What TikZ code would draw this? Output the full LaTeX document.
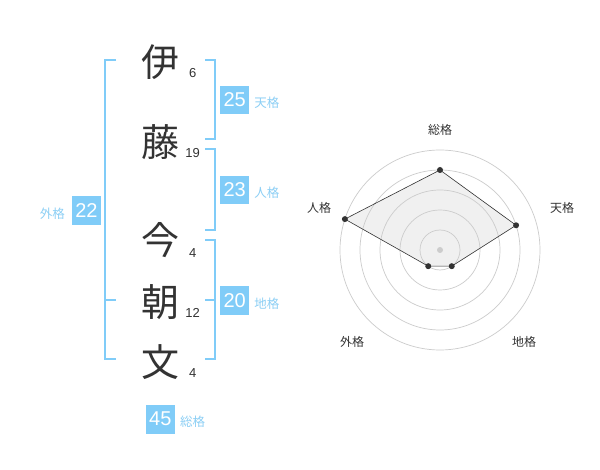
\documentclass[tikz,border=0pt]{standalone}
\usepackage{fontspec}
\setmainfont{Liberation Sans}
\newfontfamily\jp{Noto Sans CJK JP}
\usetikzlibrary{positioning,calc}
\definecolor{kakublue}{HTML}{80CCF8}
\definecolor{kakutext}{HTML}{8CCFF5}
\definecolor{inkgray}{HTML}{333333}
\tikzset{
  kanji/.style={text=inkgray,font=\jp\fontsize{38}{38}\selectfont,inner sep=0pt},
  strokes/.style={text=inkgray,font=\fontsize{13}{13}\selectfont,inner sep=0pt},
  kakubox/.style={fill=kakublue,text=white,minimum size=28.6pt,inner sep=0pt,font=\fontsize{20}{20}\selectfont},
  kakulabel/.style={text=kakutext,font=\jp\fontsize{12.5}{12.5}\selectfont,inner sep=0pt},
  bracket/.style={draw=kakublue,line width=2pt},
  ring/.style={draw=black!20,line width=0.7pt},
  dot/.style={circle,fill=inkgray,inner sep=0pt,minimum size=6pt},
  axislabel/.style={text=inkgray,font=\jp\fontsize{12}{12}\selectfont,inner sep=0pt}
}
\begin{document}
\begin{tikzpicture}[x=1pt,y=-1pt]
  \useasboundingbox[fill=white] (0,0) rectangle (600,470);

  % name characters
  \node[kanji] (k1) at (160,62) {伊};
  \node[kanji] (k2) at (160,142) {藤};
  \node[kanji] (k3) at (160,240) {今};
  \node[kanji] (k4) at (160,302) {朝};
  \node[kanji] (k5) at (160,362) {文};

  % stroke counts
  \node[strokes] (s1) at (192.7,72.7) {6};
  \node[strokes] (s2) at (192.7,152.7) {19};
  \node[strokes] (s3) at (192.7,253.3) {4};
  \node[strokes] (s4) at (192.7,312.7) {12};
  \node[strokes] (s5) at (192.7,372.7) {4};

  % right brackets
  \draw[bracket] (205,60) -- (215,60) -- (215,139) -- (205,139);
  \draw[bracket] (205,149) -- (215,149) -- (215,230) -- (205,230);
  \draw[bracket] (205,240) -- (215,240) -- (215,359) -- (205,359);
  \draw[bracket] (205,300) -- (215,300);

  % left bracket
  \draw[bracket] (116,60) -- (105,60) -- (105,359) -- (116,359);
  \draw[bracket] (105,300) -- (116,300);

  % kaku boxes
  \node[kakubox] (ten) at (234.7,100) {25};
  \node[kakulabel,right=5pt of ten,yshift=-3pt] (tenl) {天格};
  \node[kakubox] (jin) at (234.7,190) {23};
  \node[kakulabel,right=5pt of jin,yshift=-3pt] (jinl) {人格};
  \node[kakubox] (chi) at (234.7,300.7) {20};
  \node[kakulabel,right=5pt of chi,yshift=-3pt] (chil) {地格};
  \node[kakubox] (gai) at (86.5,210.3) {22};
  \node[kakulabel,left=7pt of gai,yshift=-3pt] (gail) {外格};
  \node[kakubox] (sou) at (160.3,419.2) {45};
  \node[kakulabel,right=5pt of sou,yshift=-3pt] (soul) {総格};

  % radar chart
  \coordinate (c) at (440,250);
  \coordinate (rsou) at ($(c)+(-90:80)$);
  \coordinate (rten) at ($(c)+(-18:80)$);
  \coordinate (rchi) at ($(c)+(54:20)$);
  \coordinate (rgai) at ($(c)+(126:20)$);
  \coordinate (rjin) at ($(c)+(-162:100)$);
  \fill[black!6] (rsou) -- (rten) -- (rchi) -- (rgai) -- (rjin) -- cycle;
  \foreach \r in {20,40,...,100}
    \draw[ring] (c) circle (\r pt);
  \fill[black!20] (c) circle (3pt);
  \draw[inkgray,line width=0.6pt] (rsou) -- (rten) -- (rchi) -- (rgai) -- (rjin) -- cycle;
  \foreach \p in {rsou,rten,rchi,rgai,rjin}
    \node[dot] at (\p) {};

  % axis labels
  \node[axislabel] (asou) at (440,130) {総格};
  \node[axislabel] (aten) at (562,208) {天格};
  \node[axislabel] (achi) at (524,342) {地格};
  \node[axislabel] (agai) at (352,342) {外格};
  \node[axislabel] (ajin) at (319,208) {人格};
\end{tikzpicture}
\end{document}
